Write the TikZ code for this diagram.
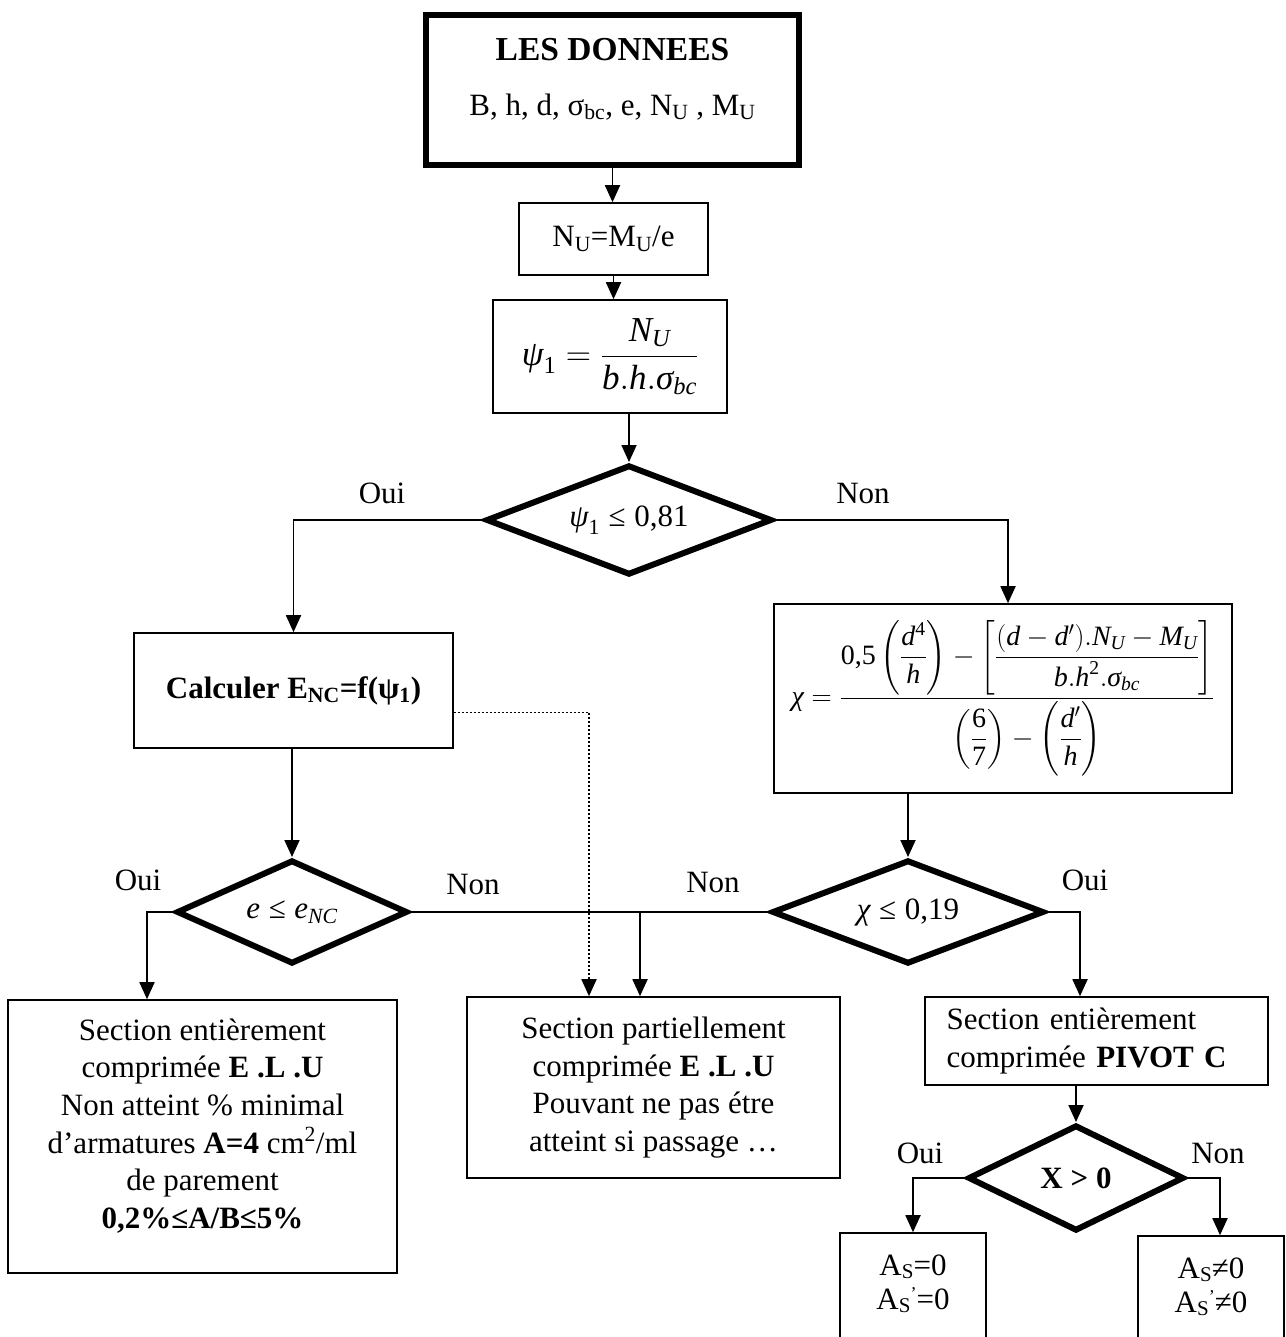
\RequirePackage{fix-cm}
\documentclass[tikz,border=0pt]{standalone}
\usepackage{amsmath}
\usepackage{fontspec}
\setmainfont{Liberation Serif}
\usetikzlibrary{shapes.geometric,arrows.meta}

% italic variables, Greek letters and upright numbers in the formulas
\newcommand{\mv}[1]{\mathit{#1}}
\newcommand{\gk}[1]{\text{\itshape #1}}
\newcommand{\nm}[1]{\text{#1}}
\newcommand{\lesseq}{\mathrel{\text{≤}}}
% steel sections A_S and A_S'
\newcommand{\subS}{\raisebox{-0.1em}{\fontsize{21}{21}\selectfont S}}
\newcommand{\As}{A\subS}
\newcommand{\Asp}{A\subS\raisebox{0.33em}{\fontsize{18}{18}\selectfont ’}}

\begin{document}
\begin{tikzpicture}[x=1pt,y=-1pt,
  txt/.style={font=\fontsize{31}{37.6}\selectfont, inner sep=0pt, align=center},
  box/.style={txt, draw, line width=1.6pt},
  decision/.style={txt, diamond, draw, line width=6pt, aspect=2.4},
  link/.style={line width=1.8pt},
  arr/.style={link, -{Triangle[length=17pt,width=15pt]}},
  hint/.style={arr, dash pattern=on 2pt off 2pt}]

\fill[white] (0,0) rectangle (1285,1337);
\useasboundingbox (0,0) rectangle (1285,1337);
\clip (0,0) rectangle (1285,1337);

% input data
\node[box, line width=6pt, minimum width=373pt, minimum height=150pt] (data) at (612.5,90) {};
\node[txt, font=\fontsize{33.5}{40}\selectfont\bfseries] (title) at (612.5,50) {LES DONNEES};
\node[txt] (vars) at (612.5,107) {B, h, d, σ\textsubscript{bc}, e, N\textsubscript{U} , M\textsubscript{U}};

\node[box, minimum width=189pt, minimum height=72pt] (nu) at (613.5,239) {N\textsubscript{U}=M\textsubscript{U}/e};
\node[box, minimum width=234pt, minimum height=113pt, font=\fontsize{35}{40}\selectfont] (psi) at (610,356.5)
  {$\gk{ψ}_{\nm{1}}=\dfrac{\mv{N}_{\mv{U}}}{\mv{b.h.}\gk{σ}_{\mv{bc}}}$};

\node[decision, minimum width=286pt, minimum height=110pt] (d1) at (629,520) {$\gk{ψ}_{\nm{1}}\lesseq \nm{0,81}$};

\node[box, minimum width=319pt, minimum height=115pt, font=\fontsize{31}{37.6}\selectfont\bfseries] (calc) at (293.5,690.5)
  {Calculer E\textsubscript{NC}=f(ψ\textsubscript{1})};

\node[box, minimum width=458pt, minimum height=189pt, font=\fontsize{28}{34}\selectfont] (chi) at (1003,698.5)
  {$\gk{χ}=\dfrac{\nm{0,5}\left(\dfrac{\mv{d}^{\nm{4}}}{\mv{h}}\right)-\left[\dfrac{(\mv{d}-\mv{d}').\mv{N}_{\mv{U}}-\mv{M}_{\mv{U}}}{\mv{b.h}^{\nm{2}}.\gk{σ}_{\mv{bc}}}\right]}{\left(\dfrac{\nm{6}}{\nm{7}}\right)-\left(\dfrac{\mv{d}'}{\mv{h}}\right)}$};

\node[decision, minimum width=231pt, minimum height=104pt] (d2) at (292,912) {$\mv{e}\lesseq\mv{e}_{\mv{NC}}$};
\node[decision, minimum width=272pt, minimum height=104pt] (d3) at (908,912) {$\gk{χ}\lesseq \nm{0,19}$};

% outcomes
\node[box, minimum width=389pt, minimum height=273pt] (lb) at (202.5,1136.5) {};
\node[txt] (lbt) at (202.5,1126) {Section entièrement\\comprimée \textbf{E .L .U}\\Non atteint \% minimal\\d’armatures \textbf{A=4} cm\textsuperscript{2}/ml\\de parement\\\textbf{0,2\%≤A/B≤5\%}};

\node[box, minimum width=373pt, minimum height=181pt] (mid) at (653.5,1087.5)
  {Section partiellement\\comprimée \textbf{E .L .U}\\Pouvant ne pas étre\\atteint si passage …};

\node[box, minimum width=343pt, minimum height=88pt, align=left, text width=300pt] (pv) at (1096.5,1041)
  {Section entièrement\\comprimée \textbf{PIVOT C}};

\node[decision, minimum width=216pt, minimum height=106pt, font=\fontsize{31}{37.6}\selectfont\bfseries] (d4) at (1076,1178) {X > 0};

\node[box, minimum width=146pt, minimum height=130pt] (as0) at (913,1298) {};
\node[txt] (as0t) at (913,1284) {\As=0\\[-4pt]\Asp=0};
\node[box, minimum width=146pt, minimum height=130pt] (as1) at (1211,1301) {};
\node[txt] (as1t) at (1211,1287) {\As≠0\\[-4pt]\Asp≠0};

% branch labels
\node[txt] (oui1) at (382,493) {Oui};
\node[txt] (non1) at (863,493) {Non};
\node[txt] (oui2) at (138,880) {Oui};
\node[txt] (non2) at (473,884) {Non};
\node[txt] (non3) at (713,882) {Non};
\node[txt] (oui3) at (1085,880) {Oui};
\node[txt] (oui4) at (920,1153) {Oui};
\node[txt] (non4) at (1218,1153) {Non};

% connectors
\draw[arr] (data.south) -- (data.south |- nu.north);
\draw[arr] (nu.south) -- (nu.south |- psi.north);
\draw[arr] (psi.south -| d1.north) -- (d1.north);
\draw[arr] (d1.west) -| (calc.north);
\draw[arr] (d1.east) -| ([xshift=5pt]chi.north);
\draw[arr] (calc.south -| d2.north) -- (d2.north);
\draw[hint] ([yshift=-22pt]calc.east) -| ([xshift=-64.5pt]mid.north);
\draw[arr] (d2.west) -| ([xshift=-55.5pt]lb.north);
\draw[link] (d2.east) -- (d3.west);
\draw[arr] (d3.west) -| ([xshift=-13.5pt]mid.north);
\draw[arr] (chi.south -| d3.north) -- (d3.north);
\draw[arr] (d3.east) -| ([xshift=-16.5pt]pv.north);
\draw[arr] (pv.south -| d4.north) -- (d4.north);
\draw[arr] (d4.west) -| (as0.north);
\draw[arr] (d4.east) -| ([xshift=9pt]as1.north);
\end{tikzpicture}
\end{document}
